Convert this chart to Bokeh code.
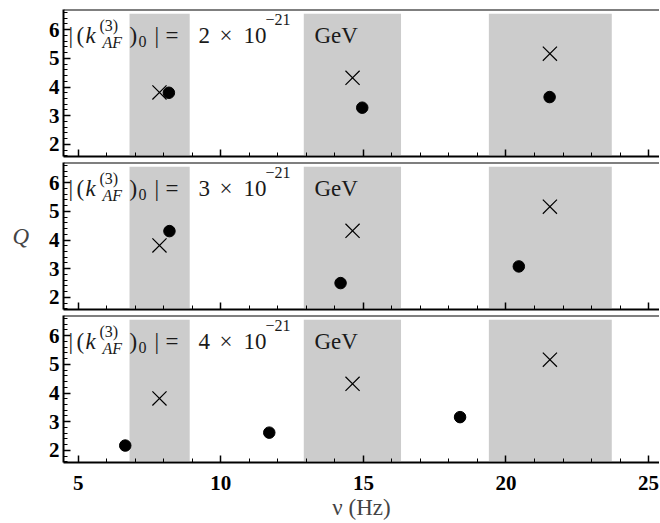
from bokeh.plotting import figure
from bokeh.layouts import column
from bokeh.models import (Label, Span, BoxAnnotation, SingleIntervalTicker,
                          LinearAxis, Range1d, CustomJSTickFormatter)
from bokeh.embed import file_html
from bokeh.resources import INLINE

# ---- data ----
coefs = ["2", "3", "4"]                       # |(k_AF^(3))_0| in 1e-21 GeV
cross_nu = [7.85, 14.62, 21.54]               # crosses (same in all panels)
cross_q = [3.81, 4.32, 5.16]
dot_nu = [[8.18, 14.96, 21.53],
          [8.20, 14.20, 20.45],
          [6.65, 11.70, 18.39]]
dot_q = [[3.80, 3.28, 3.65],
         [4.31, 2.50, 3.08],
         [2.17, 2.62, 3.16]]
band_left = [6.80, 12.91, 19.40]
band_right = [8.91, 16.32, 23.71]
band_bottom = 1.63
band_top = 6.55
x_start, x_end = 4.485, 25.383
y_start, y_end = 1.58, 6.70

FONT = "Liberation Serif"
FW, FH = 596, 147
LEFT = 63
MAIN, SCRIPT = 23, 16


def make_panel(i):
    last = (i == 2)
    p = figure(frame_width=FW, frame_height=FH,
               x_range=Range1d(x_start, x_end), y_range=Range1d(y_start, y_end),
               output_backend="svg", toolbar_location=None,
               x_axis_location=None, y_axis_location=None,
               min_border_left=LEFT, min_border_right=0,
               min_border_top=9 if i == 0 else 3,
               min_border_bottom=60 if last else 3)
    p.outline_line_color = None
    p.grid.visible = False
    p.background_fill_color = "white"
    p.border_fill_color = "white"

    xax = LinearAxis(ticker=SingleIntervalTicker(interval=5, num_minor_ticks=5))
    yax = LinearAxis(ticker=SingleIntervalTicker(interval=1, num_minor_ticks=5))
    for ax in (xax, yax):
        ax.axis_line_width = 2
        ax.axis_line_color = "black"
        ax.major_tick_in = 7
        ax.major_tick_out = 0
        ax.minor_tick_in = 4
        ax.minor_tick_out = 0
        ax.major_tick_line_width = 1.5
        ax.minor_tick_line_width = 1
        ax.major_label_text_font = FONT
        ax.major_label_text_font_style = "bold"
        ax.major_label_text_font_size = "21px"
        ax.major_label_text_color = "black"
    yax.major_label_standoff = 4
    if last:
        xax.major_label_standoff = 13
        xax.axis_label = "ν (Hz)"
        xax.axis_label_text_font = FONT
        xax.axis_label_text_font_style = "normal"
        xax.axis_label_text_font_size = f"{MAIN}px"
        xax.axis_label_standoff = 2
    else:
        xax.formatter = CustomJSTickFormatter(code="return ''")
        xax.major_label_text_font_size = "1px"
        xax.major_label_standoff = 0
    p.add_layout(xax, "below")

    if i == 1:
        yax.axis_label = "Q"
        yax.axis_label_orientation = "horizontal"
        yax.axis_label_text_font = FONT
        yax.axis_label_text_font_style = "italic"
        yax.axis_label_text_font_size = f"{MAIN}px"
        yax.axis_label_standoff = 17
    p.add_layout(yax, "left")

    p.add_layout(Span(location=y_end, dimension="width",
                      line_color="black", line_width=2))

    for l, r in zip(band_left, band_right):
        p.add_layout(BoxAnnotation(left=l, right=r, bottom=band_bottom, top=band_top,
                                   fill_color="#cccccc", fill_alpha=1.0,
                                   line_color=None, level="underlay"))

    p.scatter(cross_nu, cross_q, marker="x", size=20, line_color="black",
              line_width=1.2)
    p.scatter(dot_nu[i], dot_q[i], marker="circle", size=11.5,
              fill_color="black", line_color="black")

    # |(k_AF^(3))_0| = c x 10^-21 GeV, built from pieces (screen px in the frame)
    base = FH - 26
    pieces = [
        ("|", 5, base, MAIN, "normal"),
        ("(", 13, base, MAIN, "normal"),
        ("k", 22, base, MAIN, "italic"),
        ("(3)", 36, base + 10, SCRIPT, "normal"),
        ("AF", 39, base - 7, SCRIPT, "italic"),
        (")", 66, base, MAIN, "normal"),
        ("0", 75, base - 6, SCRIPT, "normal"),
        ("|", 91, base, MAIN, "normal"),
        ("=", 102, base, MAIN, "normal"),
        (coefs[i], 135, base, MAIN, "normal"),
        ("×", 156, base, MAIN, "normal"),
        ("10", 180, base, MAIN, "normal"),
        ("−21", 202, base + 16, SCRIPT, "normal"),
        ("GeV", 251, base, MAIN, "normal"),
    ]
    for txt, x, y, fs, st in pieces:
        p.add_layout(Label(x=x, y=y, x_units="screen", y_units="screen", text=txt,
                           text_font=FONT, text_font_size=f"{fs}px",
                           text_font_style=st, text_color="#1a1a1a",
                           text_baseline="alphabetic", text_align="left"))
    return p


panels = [make_panel(i) for i in range(3)]
layout = column(*panels, spacing=0)
open("out.html", "w").write(file_html(layout, INLINE))
